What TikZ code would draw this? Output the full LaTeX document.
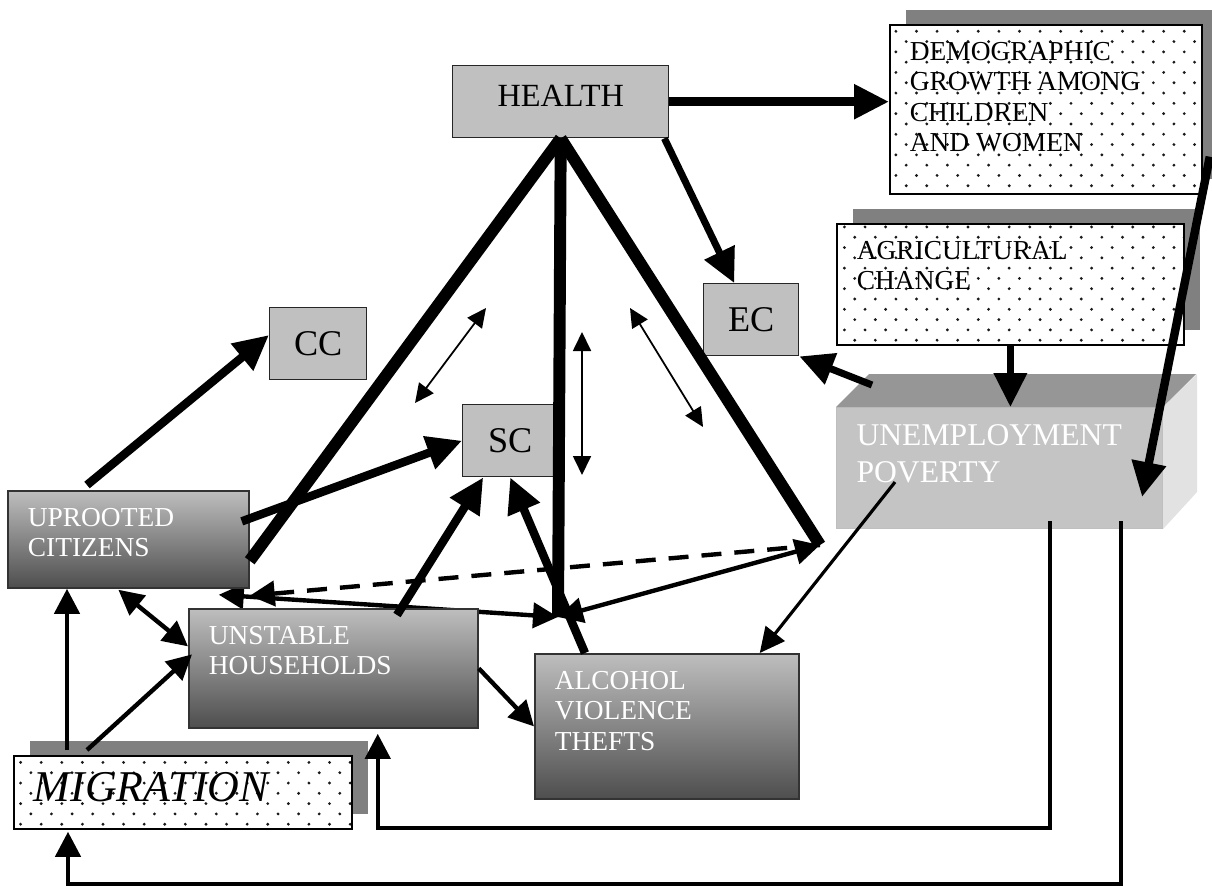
\documentclass[tikz,border=0pt]{standalone}
\usepackage{fontspec}
\setmainfont{Liberation Serif}
\usetikzlibrary{arrows.meta, calc, patterns, shadows, backgrounds}
\definecolor{cBox}{HTML}{C0C0C0}
\definecolor{cShade}{HTML}{808080}
\definecolor{cTop}{HTML}{BEBEBE}
\definecolor{cBot}{HTML}{4E4E4E}
\definecolor{cFront}{HTML}{C4C4C4}
\definecolor{cLid}{HTML}{969696}
\definecolor{cSide}{HTML}{E2E2E2}
\pgfdeclarepatternformonly{sparsedots}{\pgfqpoint{-1pt}{-1pt}}{\pgfqpoint{3.93pt}{3.93pt}}{\pgfqpoint{5.86pt}{5.86pt}}{%
  \pgfpathcircle{\pgfqpoint{0pt}{0pt}}{.45pt}%
  \pgfpathcircle{\pgfqpoint{2.93pt}{2.93pt}}{.45pt}%
  \pgfusepath{fill}%
}
\tikzset{
  graybox/.style={
    draw=black!85, line width=0.4pt,
    fill=cBox,
    inner sep=0pt,
    anchor=north west,
    font=\fontsize{10.3}{12}\selectfont
  },
  dotbox/.style={
    draw=black, line width=0.5pt,
    inner sep=0pt,
    anchor=north west,
    drop shadow={shadow xshift=1.6mm, shadow yshift=1.5mm, fill=cShade, opacity=1},
    preaction={fill=white},
    pattern=sparsedots, pattern color=black!90,
    font=\fontsize{7.8}{8.7}\selectfont
  },
  shadebox/.style={
    draw=black!80, line width=0.5pt,
    inner sep=0pt,
    anchor=north west,
    top color=cTop, bottom color=cBot,
    text=white,
    font=\fontsize{7.8}{8.7}\selectfont
  },
  cubebox/.style={
    fill=cFront, draw=black!25, line width=0.3pt,
    inner sep=0pt,
    anchor=north west,
    text=white,
    font=\fontsize{9}{10.5}\selectfont
  },
  legline/.style={line width=3.4pt},
  bigarrow/.style={>={Triangle[length=3.5mm,width=3.3mm]}, line width=2.4pt},
  midarrow/.style={>={Triangle[length=3.4mm,width=3.2mm]}, line width=2pt},
  smallarrow/.style={>={Triangle[length=2.5mm,width=2.5mm]}, line width=1.25pt},
  lightarrow/.style={>={Triangle[length=2.5mm,width=2.4mm]}, line width=0.9pt},
  hairarrow/.style={>={Triangle[length=1.9mm,width=1.8mm]}, line width=0.5pt}
}
\newcommand{\boxtxt}[3]{%
  \parbox[c][#2][t]{#1}{\vspace*{1.7mm}\leftskip=2mm\relax #3}%
}

\begin{document}
\begin{tikzpicture}[x=0.1mm, y=-0.1mm]
  \useasboundingbox (0,0) rectangle (1212,886);

  % boxes
  \node[graybox, minimum width=21.6mm, minimum height=7.2mm, text depth=1.2mm, font=\fontsize{9.2}{11}\selectfont] (health) at (452,65) {HEALTH};
  \node[dotbox] (demog) at (889,24) {\boxtxt{31.2mm}{16.9mm}{DEMOGRAPHIC\\GROWTH AMONG\\CHILDREN\\AND WOMEN}};
  \node[dotbox] (agri) at (836,223) {\boxtxt{34.7mm}{12.1mm}{AGRICULTURAL\\CHANGE}};
  \node[cubebox] (unemp) at (836,407) {\boxtxt{32.6mm}{12.1mm}{UNEMPLOYMENT\\POVERTY}};
  \fill[cLid] (unemp.north west) -- ++(33,-33) -- ++(327,0) -- (unemp.north east) -- cycle;
  \fill[cSide] (unemp.north east) -- ++(34,-33) -- ++(0,118) -- (unemp.south east) -- cycle;
  \node[graybox, minimum width=9.5mm, minimum height=7.2mm] (ec) at (703,283) {EC};
  \node[graybox, minimum width=9.7mm, minimum height=7.2mm] (cc) at (269,307) {CC};
  \node[graybox, minimum width=9.5mm, minimum height=7.2mm] (sc) at (462,404) {SC};
  \node[shadebox] (uproot) at (7,490) {\boxtxt{24.1mm}{9.7mm}{UPROOTED\\CITIZENS}};
  \node[shadebox] (unstable) at (188,608) {\boxtxt{28.9mm}{11.9mm}{UNSTABLE\\HOUSEHOLDS}};
  \node[shadebox] (alcohol) at (534,653) {\boxtxt{26.4mm}{14.5mm}{ALCOHOL\\VIOLENCE\\THEFTS}};
  \node[dotbox, font=\fontsize{12.5}{14}\selectfont\itshape] (migr) at (13,755) {\boxtxt{33.8mm}{7.3mm}{MIGRATION}};

  \coordinate (jn) at (558,617);
  \coordinate (rcorner) at (820,545);
  \coordinate (dA1) at (415,403);
  \coordinate (dA2) at (486,308);
  \coordinate (dB1) at (582,332);
  \coordinate (dB2) at (582,475);
  \coordinate (dC1) at (630,308);
  \coordinate (dC2) at (703,427);

  % health triangle
  \draw[legline] (health.south) -- (uproot.-10);
  \draw[legline] (health.south) -- (jn);
  \draw[legline] (health.south) -- (rcorner);

  % thick arrows
  \draw[bigarrow, ->] (health.east) -- (health.east -| demog.west);
  \draw[bigarrow, ->] ($(demog.south east)+(7,-38)$) -- ($(unemp.south east)+(-21,-32)$);
  \draw[midarrow, ->] (agri.south) -- (agri.south |- unemp.north);
  \draw[midarrow, ->] ($(unemp.north west)+(36,-22)$) -- (ec.south east);
  \draw[midarrow, ->] ($(health.south east)+(-5,0)$) -- ($(ec.north)+(-17,0)$);
  \draw[bigarrow, ->] ($(uproot.north west)+(80,-5)$) -- (cc.170);
  \draw[bigarrow, ->] ($(uproot.east)+(-8,-18)$) -- (sc.west);
  \draw[bigarrow, ->] ($(unstable.north west)+(209,7)$) -- ($(sc.south)+(-27,0)$);
  \draw[bigarrow, ->] ($(alcohol.north west)+(51,0)$) -- (sc.south);

  % thin links
  \begin{scope}[on background layer]
    \draw[smallarrow, <->] ($(uproot.south east)+(-31,6)$) -- (jn);
  \end{scope}
  \draw[smallarrow, <->] (jn) -- (rcorner);
  \draw[smallarrow, ->, dash pattern=on 2mm off 1.3mm] (rcorner) -- ($(uproot.south east)+(0,7)$);
  \draw[smallarrow, <->] ($(uproot.south)+(-10,1)$) -- ($(unstable.west)+(0,-22)$);
  \draw[smallarrow, ->] ($(migr.north west)+(54,-5)$) -- ($(uproot.south west)+(60,0)$);
  \draw[smallarrow, ->] ($(migr.north west)+(74,-5)$) -- ($(unstable.west)+(4,-14)$);
  \draw[smallarrow, ->] (unstable.east) -- (alcohol.west);
  \draw[lightarrow, ->] ($(unemp.south west)+(59,-47)$) -- ($(alcohol.north east)+(-40,0)$);
  \draw[hairarrow, <->] (dA1) -- (dA2);
  \draw[hairarrow, <->] (dB1) -- (dB2);
  \draw[hairarrow, <->] (dC1) -- (dC2);

  % feedback loops
  \draw[smallarrow, ->] ($(unemp.south west)+(214,-8)$) -- ++(0,307) -| ($(unstable.south east)+(-101,5)$);
  \draw[smallarrow, ->] ($(unemp.south west)+(285,-8)$) -- ++(0,363) -| ($(migr.south west)+(55,2)$);
\end{tikzpicture}
\end{document}
